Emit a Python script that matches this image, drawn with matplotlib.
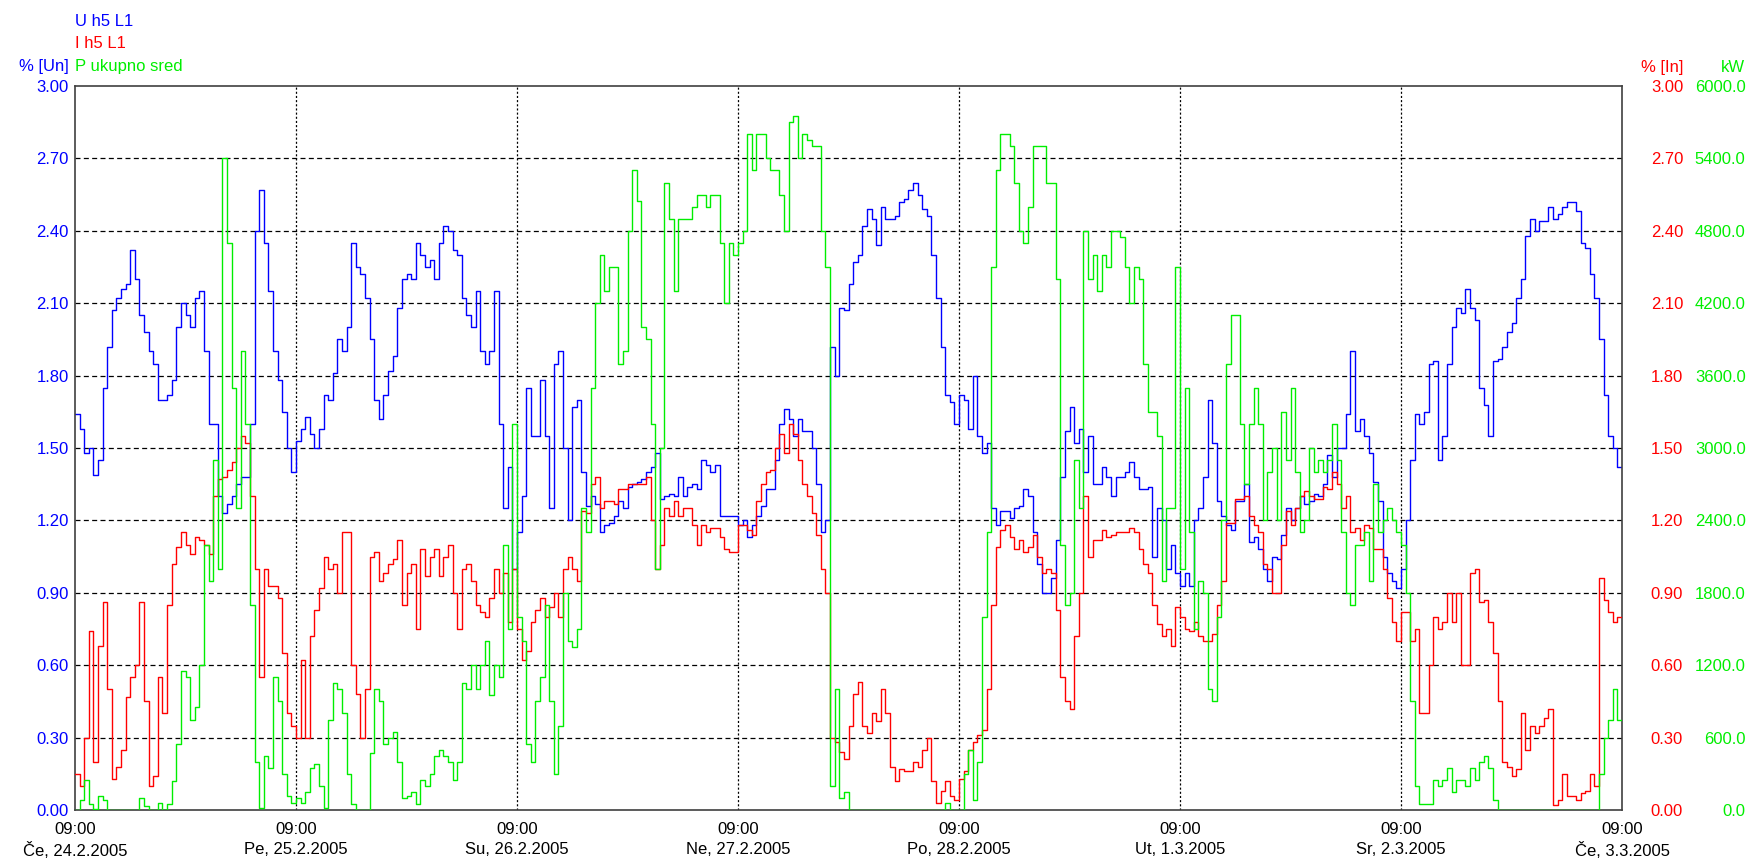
import numpy as np
import matplotlib.pyplot as plt

plt.rcParams['font.family'] = ['Liberation Sans', 'DejaVu Sans']
plt.rcParams['lines.scale_dashes'] = False

# half-hour samples, sample 0 = 09:00 24.2.2005
u_h5 = [1.64, 1.58, 1.48, 1.50, 1.39, 1.45, 1.75, 1.92, 2.07, 2.12,
        2.16, 2.18, 2.32, 2.20, 2.05, 1.98, 1.90, 1.85, 1.70, 1.70,
        1.72, 1.78, 2.00, 2.10, 2.05, 2.00, 2.12, 2.15, 1.90, 1.60,
        1.60, 1.30, 1.23, 1.27, 1.30, 1.35, 1.38, 1.38, 1.60, 2.40,
        2.57, 2.35, 2.15, 1.90, 1.78, 1.65, 1.50, 1.40, 1.53, 1.58,
        1.63, 1.56, 1.50, 1.58, 1.72, 1.70, 1.81, 1.95, 1.90, 2.00,
        2.35, 2.25, 2.22, 2.12, 1.95, 1.70, 1.62, 1.72, 1.82, 1.88,
        2.08, 2.20, 2.22, 2.20, 2.35, 2.30, 2.25, 2.28, 2.20, 2.35,
        2.42, 2.40, 2.32, 2.30, 2.12, 2.05, 2.00, 2.15, 1.90, 1.85,
        1.90, 2.15, 1.60, 1.25, 1.42, 1.00, 1.15, 1.30, 1.75, 1.55,
        1.55, 1.78, 1.55, 1.25, 1.85, 1.90, 1.50, 1.20, 1.67, 1.70,
        1.40, 1.26, 1.30, 1.27, 1.15, 1.18, 1.19, 1.22, 1.28, 1.25,
        1.34, 1.35, 1.36, 1.37, 1.40, 1.42, 1.48, 1.29, 1.30, 1.31,
        1.30, 1.38, 1.30, 1.34, 1.35, 1.33, 1.45, 1.43, 1.40, 1.43,
        1.22, 1.22, 1.22, 1.22, 1.18, 1.20, 1.13, 1.18, 1.22, 1.26,
        1.33, 1.33, 1.45, 1.60, 1.66, 1.62, 1.55, 1.62, 1.57, 1.57,
        1.50, 1.35, 1.15, 1.20, 1.92, 1.80, 2.08, 2.07, 2.18, 2.27,
        2.30, 2.42, 2.49, 2.45, 2.34, 2.50, 2.45, 2.45, 2.46, 2.52,
        2.53, 2.57, 2.60, 2.55, 2.49, 2.46, 2.30, 2.12, 1.92, 1.72,
        1.69, 1.60, 1.72, 1.70, 1.58, 1.80, 1.55, 1.48, 1.52, 1.25,
        1.18, 1.24, 1.24, 1.21, 1.25, 1.26, 1.33, 1.30, 1.15, 1.02,
        0.90, 0.90, 0.96, 1.12, 1.38, 1.57, 1.67, 1.52, 1.58, 1.40,
        1.55, 1.35, 1.35, 1.42, 1.38, 1.30, 1.38, 1.38, 1.40, 1.44,
        1.38, 1.33, 1.33, 1.34, 1.05, 1.25, 1.20, 1.00, 1.10, 0.98,
        0.93, 0.98, 0.93, 1.20, 1.25, 1.38, 1.70, 1.52, 1.28, 1.22,
        1.18, 1.16, 1.28, 1.28, 1.35, 1.11, 1.13, 1.08, 1.00, 0.95,
        1.05, 1.04, 1.14, 1.25, 1.20, 1.25, 1.30, 1.27, 1.28, 1.31,
        1.30, 1.35, 1.47, 1.38, 1.50, 1.50, 1.64, 1.90, 1.57, 1.62,
        1.55, 1.48, 1.36, 1.28, 1.05, 0.98, 0.95, 0.92, 1.00, 1.20,
        1.45, 1.64, 1.60, 1.65, 1.85, 1.86, 1.45, 1.55, 1.85, 2.00,
        2.08, 2.06, 2.16, 2.08, 2.03, 1.75, 1.68, 1.55, 1.86, 1.87,
        1.92, 1.98, 2.02, 2.12, 2.20, 2.38, 2.45, 2.40, 2.44, 2.44,
        2.50, 2.45, 2.47, 2.50, 2.52, 2.52, 2.48, 2.35, 2.33, 2.22,
        2.12, 1.95, 1.72, 1.55, 1.50, 1.42]

i_h5 = [0.15, 0.10, 0.30, 0.74, 0.20, 0.68, 0.86, 0.50, 0.13, 0.18,
        0.25, 0.47, 0.55, 0.60, 0.86, 0.45, 0.10, 0.14, 0.55, 0.40,
        0.85, 1.02, 1.09, 1.15, 1.10, 1.06, 1.13, 1.12, 1.10, 1.06,
        1.30, 1.37, 1.38, 1.41, 1.44, 1.50, 1.55, 1.52, 1.30, 1.00,
        0.55, 1.00, 0.93, 0.93, 0.88, 0.65, 0.40, 0.35, 0.30, 0.62,
        0.30, 0.72, 0.83, 0.92, 1.05, 1.00, 1.02, 0.90, 1.15, 1.15,
        0.60, 0.48, 0.30, 0.50, 1.05, 1.07, 0.95, 0.98, 1.02, 1.04,
        1.12, 0.85, 0.98, 1.02, 0.75, 1.08, 0.97, 1.05, 1.08, 0.97,
        1.05, 1.10, 0.90, 0.75, 1.00, 1.02, 0.95, 0.85, 0.82, 0.80,
        0.88, 1.00, 0.90, 0.98, 0.78, 1.00, 0.75, 0.62, 0.66, 0.78,
        0.83, 0.88, 0.80, 0.84, 0.90, 0.80, 1.00, 1.05, 1.00, 0.95,
        1.24, 1.23, 1.35, 1.38, 1.25, 1.28, 1.28, 1.27, 1.33, 1.33,
        1.35, 1.35, 1.35, 1.35, 1.38, 1.20, 1.00, 1.10, 1.25, 1.22,
        1.28, 1.22, 1.25, 1.25, 1.18, 1.10, 1.18, 1.15, 1.17, 1.17,
        1.13, 1.08, 1.07, 1.07, 1.18, 1.18, 1.16, 1.14, 1.28, 1.35,
        1.40, 1.41, 1.50, 1.56, 1.48, 1.60, 1.56, 1.45, 1.35, 1.30,
        1.23, 1.14, 1.00, 0.90, 0.30, 0.28, 0.24, 0.21, 0.35, 0.48,
        0.53, 0.35, 0.32, 0.40, 0.37, 0.50, 0.40, 0.18, 0.12, 0.17,
        0.16, 0.16, 0.20, 0.18, 0.25, 0.30, 0.12, 0.03, 0.08, 0.12,
        0.06, 0.04, 0.13, 0.16, 0.25, 0.28, 0.31, 0.33, 0.50, 0.85,
        1.09, 1.16, 1.18, 1.13, 1.08, 1.12, 1.07, 1.09, 1.14, 1.05,
        0.98, 1.00, 0.98, 0.83, 0.55, 0.45, 0.42, 0.72, 0.90, 1.30,
        1.05, 1.12, 1.12, 1.16, 1.13, 1.14, 1.15, 1.15, 1.15, 1.17,
        1.15, 1.08, 1.02, 0.98, 0.85, 0.77, 0.72, 0.75, 0.68, 0.84,
        0.80, 0.75, 0.74, 0.78, 0.72, 0.70, 0.70, 0.73, 0.85, 0.95,
        1.19, 1.19, 1.29, 1.29, 1.30, 1.22, 1.18, 1.15, 1.02, 1.00,
        0.90, 0.90, 1.10, 1.24, 1.18, 1.25, 1.30, 1.32, 1.30, 1.29,
        1.29, 1.34, 1.33, 1.40, 1.35, 1.25, 1.30, 1.15, 1.17, 1.12,
        1.18, 1.17, 1.08, 1.08, 1.00, 0.88, 0.78, 0.70, 0.82, 0.82,
        0.70, 0.75, 0.40, 0.40, 0.60, 0.80, 0.75, 0.78, 0.90, 0.78,
        0.90, 0.60, 0.60, 0.98, 1.00, 0.86, 0.87, 0.78, 0.65, 0.45,
        0.20, 0.18, 0.14, 0.17, 0.40, 0.25, 0.35, 0.32, 0.35, 0.38,
        0.42, 0.02, 0.04, 0.15, 0.06, 0.06, 0.04, 0.07, 0.08, 0.15,
        0.10, 0.96, 0.87, 0.82, 0.78, 0.80]

p_sred = [0, 80, 250, 50, 10, 120, 80, 0, 0, 0,
          0, 0, 0, 0, 100, 30, 0, 0, 60, 0,
          50, 240, 550, 1150, 1100, 750, 850, 1200, 2200, 1900,
          2900, 2000, 5400, 4700, 3500, 2500, 3800, 3200, 1700, 400,
          20, 450, 350, 1100, 900, 300, 120, 60, 100, 60,
          150, 350, 380, 200, 20, 750, 1050, 1000, 800, 300,
          50, 0, 0, 0, 470, 1000, 900, 550, 600, 650,
          400, 100, 120, 150, 50, 250, 200, 300, 450, 500,
          450, 400, 250, 400, 1050, 1000, 1200, 1000, 1200, 1400,
          950, 1200, 1100, 2200, 1500, 3200, 1600, 1400, 550, 400,
          900, 1100, 1700, 900, 300, 700, 1800, 1400, 1350, 1500,
          2500, 2300, 3500, 4200, 4600, 4300, 4500, 4500, 3700, 3800,
          4800, 5300, 5050, 4000, 3900, 3200, 2000, 3000, 5200, 4900,
          4300, 4900, 4900, 4900, 5000, 5100, 5100, 5000, 5100, 5100,
          4700, 4200, 4700, 4600, 4700, 4800, 5600, 5300, 5600, 5600,
          5400, 5300, 5300, 5100, 4800, 5700, 5750, 5400, 5600, 5550,
          5500, 5500, 4800, 4500, 200, 1000, 100, 150, 0, 0,
          0, 0, 0, 0, 0, 0, 0, 0, 0, 0,
          0, 0, 0, 0, 0, 0, 0, 0, 0, 60,
          0, 0, 0, 300, 500, 80, 400, 1600, 2300, 4500,
          5300, 5600, 5600, 5500, 5200, 4800, 4700, 5000, 5500, 5500,
          5500, 5200, 5200, 4400, 2200, 1700, 1800, 2900, 2500, 4800,
          4400, 4600, 4300, 4600, 4500, 4800, 4800, 4750, 4500, 4200,
          4500, 4400, 3700, 3300, 3300, 3100, 1900, 2500, 2500, 4500,
          2000, 3500, 2300, 1500, 1900, 1800, 1000, 900, 1600, 2400,
          3700, 4100, 4100, 3200, 2700, 3200, 3500, 3200, 2400, 2800,
          3000, 2400, 3300, 2900, 3500, 2800, 2300, 2400, 3000, 2800,
          2900, 2800, 2900, 3200, 2900, 2300, 1800, 1700, 2200, 2200,
          2300, 1900, 2700, 2300, 2400, 2500, 2400, 2300, 2200, 1800,
          900, 200, 50, 50, 50, 250, 200, 250, 350, 150,
          250, 250, 200, 350, 250, 400, 450, 350, 80, 0,
          0, 0, 0, 0, 0, 0, 0, 0, 0, 0,
          0, 0, 0, 0, 0, 0, 0, 0, 0, 0,
          0, 300, 600, 750, 1000, 750]

day_labels = ['Če, 24.2.2005', 'Pe, 25.2.2005', 'Su, 26.2.2005', 'Ne, 27.2.2005',
              'Po, 28.2.2005', 'Ut, 1.3.2005', 'Sr, 2.3.2005', 'Če, 3.3.2005']

BLUE = '#0000ff'
RED = '#ff0000'
GREEN = '#00ee00'

hours = np.arange(len(u_h5) + 1) / 2.0

def ext(v):
    return list(v) + [v[-1]]

W, H = 1751, 861
fig = plt.figure(figsize=(W / 100, H / 100), dpi=100)
ax = fig.add_axes([75 / W, 51 / H, 1547 / W, 724 / H])
ax2 = ax.twinx()
ax3 = ax.twinx()

# grid
for y in np.arange(0.3, 2.71, 0.3):
    ax.axhline(y, color='black', lw=0.9, ls=(0, (3.6, 2.4)), zorder=0)
for d in range(1, 7):
    ax.axvline(d * 24, color='black', lw=0.9, ls=(0, (1.5, 1.5)), zorder=0)

ax.step(hours, ext(u_h5), where='post', color=BLUE, lw=1.0)
ax2.step(hours, ext(i_h5), where='post', color=RED, lw=1.0)
ax3.step(hours, ext(p_sred), where='post', color=GREEN, lw=1.0)

ax.set_xlim(0, 168)
ax.set_ylim(0, 3)
ax2.set_ylim(0, 3)
ax3.set_ylim(0, 6000)

yt = np.arange(0, 3.01, 0.3)
ax.set_yticks(yt)
ax.set_yticklabels(['%.2f' % v for v in yt])
ax.tick_params(axis='y', length=0, pad=4.5, labelcolor=BLUE, labelsize=12, right=False)
ax.set_xticks(np.arange(0, 169, 24))
ax.set_xticklabels(['09:00\n' + s for s in day_labels])
ax.tick_params(axis='x', length=0, pad=9, labelsize=12)
for t in ax.get_xticklabels():
    t.set_linespacing(1.35)

ax2.set_yticks(yt)
ax2.set_yticklabels(['%.2f' % v for v in yt])
ax2.tick_params(axis='y', length=0, pad=44, labelcolor=RED, labelsize=12)
plt.setp(ax2.get_yticklabels(), ha='right')

gt = np.arange(0, 6001, 600)
ax3.set_yticks(gt)
ax3.set_yticklabels(['%.1f' % v for v in gt])
ax3.tick_params(axis='y', length=0, pad=89, labelcolor=GREEN, labelsize=12)
plt.setp(ax3.get_yticklabels(), ha='right')

for a in (ax2, ax3):
    for s in a.spines.values():
        s.set_visible(False)
for s in ax.spines.values():
    s.set_color('#404040')
    s.set_linewidth(1.2)

# header texts
fig.text(75 / W, 1 - 26 / H, 'U h5 L1', color=BLUE, fontsize=12, va='baseline')
fig.text(75 / W, 1 - 48 / H, 'I h5 L1', color=RED, fontsize=12, va='baseline')
fig.text(75 / W, 1 - 71 / H, 'P ukupno sred', color=GREEN, fontsize=12, va='baseline')
fig.text(69 / W, 1 - 71 / H, '% [Un]', color=BLUE, fontsize=12, va='baseline', ha='right')
fig.text(1683 / W, 1 - 72 / H, '% [In]', color=RED, fontsize=12, va='baseline', ha='right')
fig.text(1745 / W, 1 - 72 / H, 'kW', color=GREEN, fontsize=12, va='baseline', ha='right')

fig.savefig('out.png', dpi=100)
